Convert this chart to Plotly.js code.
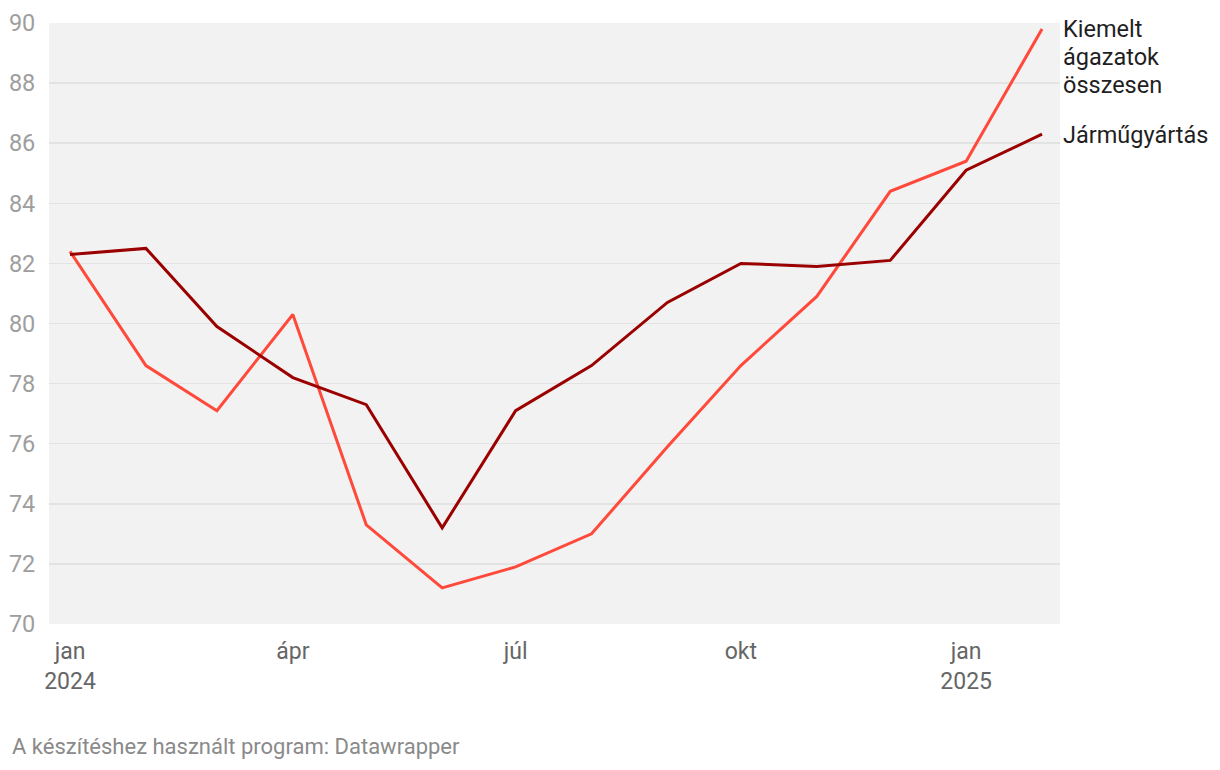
<!DOCTYPE html>
<html>
<head>
<meta charset="utf-8">
<script src="https://cdn.plot.ly/plotly-3.0.1.min.js"></script>
<style>
  html, body { margin: 0; padding: 0; background: #fff; }
  #chart { width: 1220px; height: 770px; }
</style>
</head>
<body>
<div id="chart"></div>
<script>
const months = ["2024-01-01","2024-02-01","2024-03-01","2024-04-01","2024-05-01","2024-06-01","2024-07-01",
                "2024-08-01","2024-09-01","2024-10-01","2024-11-01","2024-12-01","2025-01-01","2025-02-01"];
const kiemelt = [82.4, 78.6, 77.1, 80.3, 73.3, 71.2, 71.9, 73.0, 75.9, 78.6, 80.9, 84.4, 85.4, 89.8];
const jarmu   = [82.3, 82.5, 79.9, 78.2, 77.3, 73.2, 77.1, 78.6, 80.7, 82.0, 81.9, 82.1, 85.1, 86.3];
const tickDates = ["2024-01-01","2024-04-01","2024-07-01","2024-10-01","2025-01-01"];
const tickLabels = ["jan<br>2024","ápr","júl","okt","jan<br>2025"];
const yTicks = [70,72,74,76,78,80,82,84,86,88,90];
const kiemeltLabelLines = ["Kiemelt","ágazatok","összesen"];
const jarmuLabelLines = ["Járműgyártás"];
const footer = "A készítéshez használt program: Datawrapper";

const redColor = "#ff4a3b";
const darkColor = "#9b0000";
const FONT = "Roboto, sans-serif";

const traces = [
  { x: months, y: kiemelt, type: "scatter", mode: "lines", name: "Kiemelt ágazatok összesen",
    line: { color: redColor, width: 3 }, hoverinfo: "skip" },
  { x: months, y: jarmu, type: "scatter", mode: "lines", name: "Járműgyártás",
    line: { color: darkColor, width: 3 }, hoverinfo: "skip" }
];

const annotations = [];
function addLabel(lines, yVal, baseShift) {
  lines.forEach((t, i) => {
    annotations.push({
      xref: "paper", x: 1, xanchor: "left", xshift: 1,
      yref: "y", y: yVal, yanchor: "middle", yshift: baseShift - 28 * i,
      text: t, showarrow: false, align: "left",
      font: { family: FONT, size: 23.5, color: "#1f1f1f" }
    });
  });
}
addLabel(kiemeltLabelLines, kiemelt[kiemelt.length - 1], 0);
addLabel(jarmuLabelLines, jarmu[jarmu.length - 1], -1);
annotations.push({
  xref: "paper", x: 0, xanchor: "left", xshift: -39,
  yref: "paper", y: -0.203, yanchor: "middle",
  text: footer, showarrow: false, align: "left",
  font: { family: FONT, size: 22, color: "#8a8a8a" }
});

const layout = {
  width: 1220, height: 770,
  margin: { l: 49, r: 160, t: 23, b: 146 },
  paper_bgcolor: "#ffffff",
  plot_bgcolor: "#f2f2f2",
  showlegend: false,
  font: { family: FONT, size: 20, color: "#333" },
  xaxis: {
    type: "date",
    range: ["2023-12-23 10:00", "2025-02-08 08:00"],
    tickmode: "array", tickvals: tickDates, ticktext: tickLabels,
    showgrid: false, zeroline: false, showline: false,
    ticks: "outside", ticklen: 6, tickcolor: "rgba(0,0,0,0)",
    tickfont: { family: FONT, size: 23, color: "#666" },
    fixedrange: true
  },
  yaxis: {
    range: [70, 90],
    tickmode: "array", tickvals: yTicks,
    showgrid: true, gridcolor: "#e3e3e3", gridwidth: 1.5,
    zeroline: false, showline: false,
    ticks: "outside", ticklen: 8, tickcolor: "rgba(0,0,0,0)",
    tickfont: { family: FONT, size: 23.5, color: "#9e9e9e" },
    fixedrange: true
  },
  annotations: annotations
};

Plotly.newPlot("chart", traces, layout, { displayModeBar: false, staticPlot: true });
</script>
</body>
</html>
